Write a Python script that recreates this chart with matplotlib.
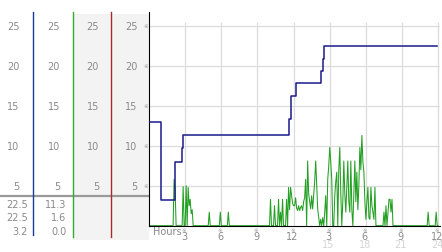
import numpy as np
import matplotlib.pyplot as plt
from matplotlib.transforms import blended_transform_factory
from matplotlib.patches import Rectangle, Circle

# gust (step line), hours since 0:00
gust_hours = [0, 0.98, 1.02, 2.17, 2.7, 2.8, 11.6, 11.75, 12.2, 14.3, 14.4, 14.5, 23.9]
gust_mph = [13.0, 8.1, 3.2, 8.0, 9.7, 11.3, 13.3, 16.2, 17.8, 19.4, 20.9, 22.5, 22.5]

# wind, one value every 5 minutes (12 per hour, one row per hour)
wind_mph = [
    0, 0, 0, 0, 0, 0, 0, 0, 0, 0, 0, 0,
    0, 0, 0, 0, 0, 0, 0, 0, 0, 0, 0, 0,
    0, 5.8, 4.5, 0, 0, 0, 0, 0, 0, 0, 4.9, 0,
    0, 5.0, 0, 4.8, 2.5, 3.3, 1.5, 2.0, 0, 0, 0, 0,
    0, 0, 0, 0, 0, 0, 0, 0, 0, 0, 0, 0,
    1.7, 0, 0, 0, 0, 0, 0, 0, 0, 0, 0, 1.7,
    0, 0, 0, 0, 0, 0, 0, 1.7, 0, 0, 0, 0,
    0, 0, 0, 0, 0, 0, 0, 0, 0, 0, 0, 0,
    0, 0, 0, 0, 0, 0, 0, 0, 0, 0, 0, 0,
    0, 0, 0, 0, 0, 0, 0, 0, 0, 0, 0, 0,
    0, 3.3, 0, 0, 0, 2.5, 0, 0, 0, 3.3, 0, 1.7,
    0, 3.3, 0, 0, 0, 3.3, 0, 4.8, 2.0, 4.8, 3.8, 2.8,
    2.5, 2.5, 3.5, 2.2, 1.9, 2.5, 1.9, 2.3, 2.5, 1.9, 3.0, 3.5,
    5.8, 0, 8.1, 4.0, 3.0, 2.1, 3.75, 2.1, 3.75, 5.5, 8.1, 5.0,
    2.1, 1.0, 0, 0.8, 0, 1.0, 0, 1.7, 3.75, 0, 5.8, 7.5,
    9.8, 8.0, 5.8, 0, 0, 3.75, 5.5, 6.7, 0, 7.0, 9.8, 4.0,
    0, 3.0, 8.1, 4.0, 1.7, 5.0, 8.1, 3.0, 1.7, 8.1, 2.0, 0,
    4.0, 8.1, 3.0, 6.7, 2.0, 5.0, 9.8, 7.0, 11.3, 8.0, 6.7, 3.0,
    0.8, 3.0, 4.8, 1.0, 0.8, 4.8, 2.5, 1.7, 0.8, 4.8, 0, 0,
    0, 0, 0, 0, 0, 0, 1.7, 0, 2.5, 0, 1.7, 3.3,
    3.3, 1.7, 3.3, 0, 0, 0, 0, 0, 0, 0, 0, 0,
    0, 0, 0, 0, 0, 0, 0, 0, 0, 0, 0, 0,
    0, 0, 0, 0, 0, 0, 0, 0, 0, 0, 0, 0,
    0, 0, 1.7, 0, 0, 0, 0, 0, 0, 0, 1.7, 0,
    0,
]
wind_hours = np.arange(len(wind_mph)) / 12.0

y_ticks = [5, 10, 15, 20, 25]
x_ticks = [3, 6, 9, 12, 15, 18, 21, 24]
x_labels = ['3', '6', '9', '12', '3', '6', '9', '12']
x_labels2 = [(15, '15'), (18, '18'), (21, '21'), (24, '24')]
gust_stats = ['22.5', '22.5', '3.2']
wind_stats = ['11.3', '1.6', '0.0']

W, H = 442, 253
grey = '#8a8a8a'
navy = '#1a1a8a'
green = '#22a022'
fs = 7

fig = plt.figure(figsize=(W / 100, H / 100), dpi=100, facecolor='white')

# overlay in pixel coordinates for the left panel
ov = fig.add_axes([0, 0, 1, 1], zorder=0)
ov.set_xlim(0, W)
ov.set_ylim(H, 0)
ov.axis('off')

# main plot
ax = fig.add_axes([149 / W, (H - 226.7) / H, 291 / W, 213.4 / H], zorder=1)
ax.set_xlim(0, 24.15)
ax.set_ylim(0, 26.7)
for s in ['top', 'right']:
    ax.spines[s].set_visible(False)
ax.spines['left'].set_color('black')
ax.spines['bottom'].set_color('black')
ax.spines['bottom'].set_zorder(5)
ax.set_xticks([])
ax.set_yticks([])

for v in y_ticks:
    ax.axhline(v, color='#dcdcdc', lw=0.9, zorder=0)
ax.vlines(x_ticks, 0, 25.5, color='#dcdcdc', lw=0.9, zorder=0)

ax.plot(wind_hours, wind_mph, color=green, lw=0.75, zorder=2)
ax.plot(gust_hours, gust_mph, color=navy, lw=1.1, drawstyle='steps-post', zorder=3)

# legend-like labels
ov.add_patch(Circle((160.7, 20.5), 3, facecolor='#b0b0b0', edgecolor='#909090', lw=0.5))
ov.text(165.5, 20.8, 'Gust 03/27/08', color=navy, fontsize=fs, va='center', ha='left')
ov.add_patch(Circle((301.7, 20.5), 3, facecolor='#b0b0b0', edgecolor='#909090', lw=0.5))
ov.text(306, 20.8, 'Wind 03/27/08', color=green, fontsize=fs, va='center', ha='left')

# left panel backgrounds and column lines
ov.add_patch(Rectangle((73, 15), 38.3, 226, facecolor='#f3f3f3', edgecolor='none'))
ov.add_patch(Rectangle((112, 15), 36.5, 226, facecolor='#f3f3f3', edgecolor='none'))
ov.plot([0, 148], [197, 197], color='#9a9a9a', lw=1.6, zorder=3)
ov.plot([33, 33], [12.7, 236], color='#1a3a9a', lw=1.0, zorder=4)
ov.plot([72.7, 72.7], [12.7, 238], color='#33aa33', lw=1.0, zorder=4)
ov.plot([111.3, 111.3], [12.7, 238], color='#aa2a2a', lw=1.0, zorder=4)

ytr = blended_transform_factory(ov.transData, ax.transData)
for v in y_ticks:
    for xr in [19.5, 60, 99, 137.5]:
        ov.text(xr, v, str(v), transform=ytr, fontsize=fs, color=grey,
                ha='right', va='center')
    ov.text(145.5, v, '\u203b', transform=ytr, fontsize=4, color='#999999',
            ha='center', va='center')

rows_y = [205, 218.5, 232]
for yy, g, w in zip(rows_y, gust_stats, wind_stats):
    ov.text(28, yy, g, fontsize=fs, color=grey, ha='right', va='center')
    ov.text(66.5, yy, w, fontsize=fs, color=grey, ha='right', va='center')

# x labels
xtr = blended_transform_factory(ax.transData, ov.transData)
ov.text(153, 232, 'Hours', fontsize=fs, color=grey, ha='left', va='center')
for xv, lab in zip(x_ticks, x_labels):
    ov.text(xv - 0.1, 230.5, '\u203b', transform=xtr, fontsize=4, color='#999999',
            ha='center', va='center')
    ov.text(xv - 0.1, 237, lab, transform=xtr, fontsize=fs, color=grey,
            ha='center', va='center')
for xv, lab in x_labels2:
    ov.text(xv - 0.1, 245.5, lab, transform=xtr, fontsize=fs, color='#d4d4d4',
            ha='center', va='center')

fig.savefig('out.png', dpi=100, facecolor='white')
